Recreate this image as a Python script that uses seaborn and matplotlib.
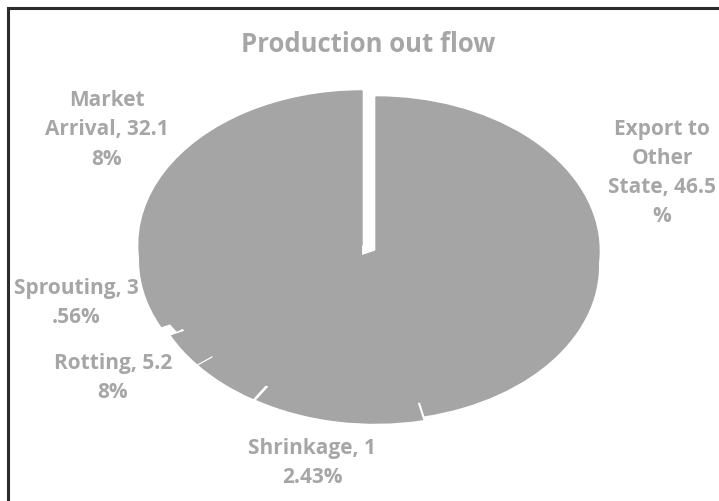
import matplotlib
matplotlib.use("Agg")
import matplotlib.pyplot as plt
import seaborn as sns
from matplotlib.patches import Rectangle

sns.set_theme(style="white")
plt.rcParams["font.family"] = ["Open Sans", "DejaVu Sans"]

# ---- data ----
categories = ["Export to Other State", "Shrinkage", "Rotting", "Sprouting", "Market Arrival"]
values = [46.5, 12.43, 5.28, 3.56, 32.18]
label_texts = ["Export to\nOther\nState, 46.5\n%",
               "Shrinkage, 1\n2.43%",
               "Rotting, 5.2\n8%",
               "Sprouting, 3\n.56%",
               "Market\nArrival, 32.1\n8%"]
title = "Production out flow"

# ---- style / layout ----
W, H = 719, 501
gray = "#a5a5a5"
text_gray = "#a6a6a6"
explode_top = [0.0, 0.0, 0.0, 0.0, 0.074]
explode_low = [0.0, 0.025, 0.025, 0.025, 0.074]
label_px = [(662, 173), (312, 463), (113, 378), (76, 303), (107, 130)]

cx, cy = 376, 251      # pie centre (pixels)
a, b = 223, 154        # semi axes (pixels)
depth = 15

fig = plt.figure(figsize=(W / 100, H / 100), dpi=100)
ax = fig.add_axes([0, 0, 1, 1])
colors = [gray] * len(values)

# lower copy gives the 3D thickness
ax.pie(values, colors=colors, startangle=90, counterclock=False,
       explode=explode_low, center=(0, -depth / b),
       wedgeprops=dict(linewidth=0, antialiased=True))
# top face
wedges, _ = ax.pie(values, colors=colors, startangle=90, counterclock=False,
                   explode=explode_top, center=(0, 0),
                   wedgeprops=dict(linewidth=1.0, edgecolor=gray))
# let the pulled-out slice overlap its lower neighbour so that only the gap
# at the top stays open (as in the 3D rendering)
mk = wedges[-1]
mk.set_theta2(mk.theta2 + 8)

ax.set_aspect("auto")
ax.set_xlim(-cx / a, (W - cx) / a)
ax.set_ylim(-(H - cy) / b, cy / b)
ax.axis("off")

fig.text(368 / W, 1 - 44 / H, title, ha="center", va="center",
         fontsize=18.5, fontweight="bold", color=text_gray)
for txt, (x, y) in zip(label_texts, label_px):
    fig.text(x / W, 1 - y / H, txt, ha="center", va="center", fontsize=15,
             fontweight="bold", color=text_gray, linespacing=1.52,
             multialignment="center")

fig.patches.append(Rectangle((8 / W, -0.1), 1.2, 1 - 8 / H + 0.1,
                             transform=fig.transFigure, fill=False,
                             edgecolor="#2b2b2b", linewidth=2.2))

fig.savefig("out.png", dpi=100, facecolor="white")
